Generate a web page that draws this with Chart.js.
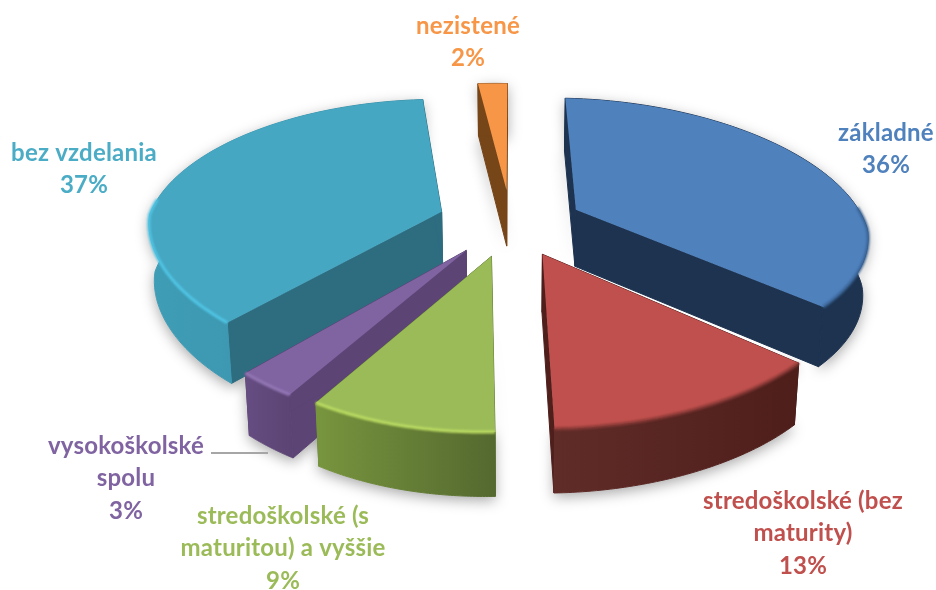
<!DOCTYPE html>
<html>
<head>
<meta charset="utf-8">
<style>
  body { margin: 0; background: #fff; }
  canvas { display: block; }
</style>
<script src="https://cdn.jsdelivr.net/npm/chart.js@4"></script>
</head>
<body>
<canvas id="pie-chart" width="936" height="590"></canvas>
<script>
// Data
const categories = [
  "základné", "stredoškolské (bez maturity)", "stredoškolské (s maturitou) a vyššie",
  "vysokoškolské spolu", "bez vzdelania", "nezistené"
];
const shares = [36, 13, 9, 3, 37, 2];

// Label text split over lines, same order as categories
const labelLines = [
  ["základné"], ["stredoškolské (bez", "maturity)"], ["stredoškolské (s", "maturitou) a vyššie"],
  ["vysokoškolské", "spolu"], ["bez vzdelania"], ["nezistené"]
];

// Styles
const topColors = ["#4F81BD", "#C0504D", "#9BBB59", "#8064A2", "#46A7C2", "#F79646"];
const cutColors = ["#1D3350", "#4F1F1C", "#5F7A35", "#5C4474", "#2E6C80", "#764518"];
const rimFrom = ["#1D3350", "#602C28", "#78953E", "#664D82", "#3F9DB6", "#764518"];
const rimTo = ["#1D3350", "#4E1E1B", "#54692F", "#5C4474", "#3A8CA5", "#764518"];
const bevelColors = ["#3A6496", "#8A3A37", "#BBDC62", "#9478B6", "#50C6E6", "#F79646"];
const labelColors = ["#4F81BD", "#C0504D", "#9BBB59", "#8064A2", "#4BACC6", "#F79646"];
const labelCenters = [[886, 133], [803, 501], [283, 516], [126, 446], [84, 153], [468, 26]];
const lineHeight = 32.5;

// Perspective of the pie plane, near half and far half lean differently
const view = {
  x: 511, y: 222.5, scaleX: 292, scaleY: 134, persp: 0.165,
  skewNear: -12, skewY: 6, taperNear: -12, taperFar: 8, depth: 57, shrink: 0.985
};

const project = (u, v, lower) => {
  const w = 1 - view.persp * v;
  const lean = v > 0
    ? view.skewNear * v * (1 - u * u) + view.taperNear * u * v
    : view.taperFar * u * v;
  let x = view.x + (view.scaleX * u + lean) / w;
  let y = view.y + (view.scaleY * v + view.skewY * u) / w;
  if (lower) {
    x = view.x + (x - view.x) * view.shrink;
    y += view.depth * (0.5 + 0.5 / w);
  }
  return [x, y];
};

const tracePoints = (ctx, points) => {
  ctx.beginPath();
  points.forEach((p, i) => (i ? ctx.lineTo(p[0], p[1]) : ctx.moveTo(p[0], p[1])));
  ctx.closePath();
};

// Geometry of one slice, taken from the arc element the doughnut controller laid out
const sliceGeometry = (arc) => {
  const mid = (arc.startAngle + arc.endAngle) / 2;
  const explode = (arc.options.offset / 4) / arc.outerRadius;
  const cu = Math.cos(mid) * explode;
  const cv = Math.sin(mid) * explode;
  const rim = [];
  const near = [];
  for (let i = 0; i <= 60; i++) {
    const a = arc.startAngle + (arc.endAngle - arc.startAngle) * i / 60;
    rim.push([cu + Math.cos(a), cv + Math.sin(a)]);
    near.push(Math.sin(a) > -0.08);
  }
  return { mid, cu, cv, rim, near };
};

const pie3d = {
  id: "pie3d",
  beforeDatasetsDraw(chart) {
    const ctx = chart.ctx;
    const arcs = chart.getDatasetMeta(0).data;
    const slices = arcs.map((arc, index) => ({ index, ...sliceGeometry(arc) }));
    // back slices first
    const ordered = [...slices].sort((a, b) => Math.sin(a.mid) - Math.sin(b.mid));

    ctx.save();
    // soft shadow under the whole pie
    slices.forEach((s) => {
      const top = s.rim.map((p) => project(p[0], p[1], false));
      const low = s.rim.map((p) => project(p[0], p[1], true));
      ctx.save();
      ctx.shadowColor = "rgba(0,0,0,0.35)";
      ctx.shadowBlur = 14;
      ctx.shadowOffsetY = 4;
      ctx.fillStyle = "#fff";
      tracePoints(ctx, [project(s.cu, s.cv, true), ...low, ...top.reverse()]);
      ctx.fill();
      ctx.restore();
    });

    ctx.filter = "blur(0.5px)";
    ctx.lineWidth = 1;
    ordered.forEach((s) => {
      const i = s.index;
      const top = s.rim.map((p) => project(p[0], p[1], false));
      const low = s.rim.map((p) => project(p[0], p[1], true));
      const apex = project(s.cu, s.cv, false);
      const apexLow = project(s.cu, s.cv, true);

      // cut faces
      ctx.fillStyle = cutColors[i];
      ctx.strokeStyle = cutColors[i];
      tracePoints(ctx, [apex, top[0], low[0], apexLow]);
      ctx.fill();
      ctx.stroke();
      tracePoints(ctx, [apex, top[60], low[60], apexLow]);
      ctx.fill();
      ctx.stroke();

      // outer rim
      const xs = top.map((p) => p[0]);
      const grad = ctx.createLinearGradient(Math.min(...xs), 0, Math.max(...xs), 0);
      grad.addColorStop(0, rimFrom[i]);
      grad.addColorStop(1, rimTo[i]);
      ctx.fillStyle = grad;
      ctx.strokeStyle = grad;
      tracePoints(ctx, [...top, ...[...low].reverse()]);
      ctx.fill();
      ctx.stroke();

      // top face
      ctx.fillStyle = topColors[i];
      tracePoints(ctx, [apex, ...top]);
      ctx.fill();

      // bevel along the part of the rim that faces the viewer
      ctx.save();
      ctx.filter = "blur(1.2px)";
      ctx.strokeStyle = bevelColors[i];
      ctx.lineWidth = 3;
      ctx.beginPath();
      let pen = false;
      top.forEach((p, k) => {
        if (!s.near[k]) { pen = false; return; }
        if (pen) ctx.lineTo(p[0], p[1]);
        else ctx.moveTo(p[0], p[1]);
        pen = true;
      });
      ctx.stroke();
      ctx.restore();
    });
    ctx.restore();
    return false; // arcs are already painted in projection
  },
  afterDraw(chart) {
    const ctx = chart.ctx;
    ctx.save();
    // leader line of the small slice
    ctx.strokeStyle = "#A6A6A6";
    ctx.lineWidth = 2;
    ctx.beginPath();
    ctx.moveTo(211, 453);
    ctx.lineTo(268, 453);
    ctx.stroke();

    ctx.font = "bold 24px Lato";
    ctx.letterSpacing = "0.2px";
    ctx.textAlign = "center";
    ctx.textBaseline = "middle";
    categories.forEach((name, i) => {
      const lines = [...labelLines[i], shares[i] + "%"];
      ctx.fillStyle = labelColors[i];
      lines.forEach((text, k) => {
        ctx.fillText(text, labelCenters[i][0], labelCenters[i][1] + k * lineHeight);
      });
    });
    ctx.restore();
  }
};

new Chart(document.getElementById("pie-chart").getContext("2d"), {
  type: "pie",
  data: {
    labels: categories,
    datasets: [{
      data: shares,
      backgroundColor: topColors,
      borderWidth: 0,
      offset: 197
    }]
  },
  options: {
    responsive: false,
    animation: false,
    plugins: {
      legend: { display: false },
      tooltip: { enabled: false }
    }
  },
  plugins: [pie3d]
});
</script>
</body>
</html>
